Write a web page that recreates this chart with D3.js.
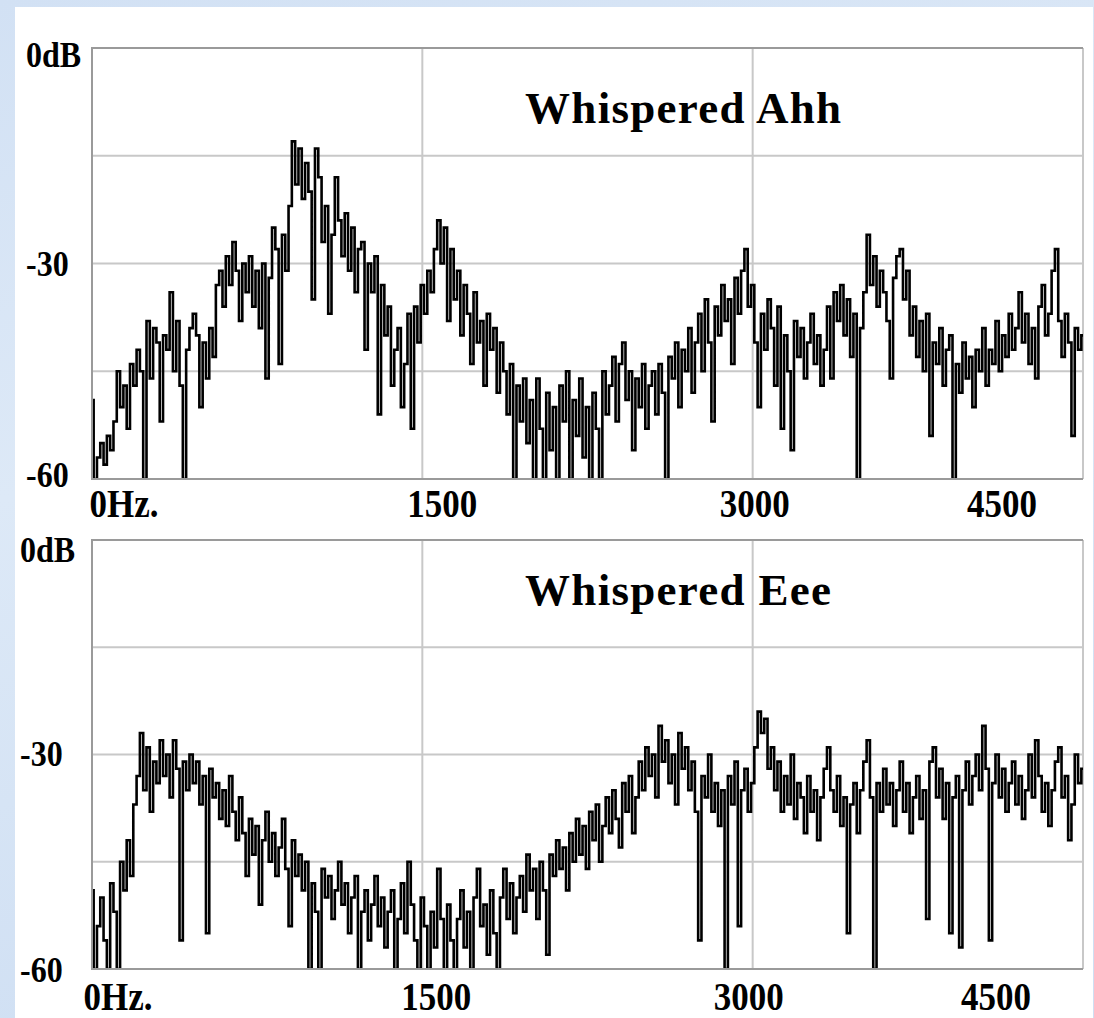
<!DOCTYPE html>
<html>
<head>
<meta charset="utf-8">
<script src="https://cdn.jsdelivr.net/npm/d3@7"></script>
<style>
  html, body { margin: 0; padding: 0; background: #d3e2f4; }
  svg { display: block; }
  text { font-family: "Liberation Serif", "Times New Roman", serif; font-weight: bold; fill: #000; }
</style>
</head>
<body>
<svg id="chart" width="1094" height="1018"></svg>
<script>
// spectrum bins are 15 Hz apart, levels in dB
const freqStep = 15;

const ahhDb = [
  -49,-60,-57,-55,-58,-54,-56,-52,-45,-50,
  -47,-53,-44,-47,-42,-45,-60,-38,-46,-39,
  -41,-52,-40,-42,-34,-45,-38,-47,-60,-42,
  -39,-37,-40,-50,-41,-46,-39,-43,-33,-31,
  -36,-29,-33,-27,-31,-38,-30,-34,-29,-36,
  -31,-39,-30,-46,-32,-25,-28,-44,-26,-31,
  -22,-13,-19,-14,-21,-16,-20,-35,-14,-18,
  -27,-22,-37,-26,-18,-24,-29,-23,-31,-25,
  -34,-28,-27,-42,-30,-34,-29,-51,-33,-40,
  -36,-47,-42,-39,-50,-44,-37,-53,-36,-41,
  -33,-37,-31,-34,-28,-24,-30,-25,-38,-28,
  -35,-31,-40,-33,-37,-44,-34,-41,-38,-47,
  -37,-42,-39,-48,-41,-45,-51,-44,-60,-47,
  -52,-46,-55,-49,-60,-46,-53,-60,-48,-56,
  -50,-60,-47,-52,-45,-60,-49,-54,-46,-57,
  -50,-60,-48,-53,-60,-45,-51,-47,-43,-52,
  -44,-41,-49,-45,-56,-46,-50,-44,-53,-47,
  -45,-51,-44,-48,-60,-43,-46,-41,-50,-42,
  -45,-39,-48,-41,-37,-45,-35,-41,-52,-36,
  -40,-33,-38,-35,-44,-32,-37,-31,-28,-36,
  -33,-41,-50,-37,-42,-35,-39,-47,-36,-53,
  -40,-45,-56,-38,-43,-39,-46,-41,-37,-44,
  -40,-47,-42,-36,-46,-34,-38,-33,-40,-35,
  -43,-37,-60,-39,-34,-26,-33,-29,-36,-31,
  -34,-38,-46,-32,-29,-28,-35,-31,-40,-36,
  -43,-38,-45,-37,-54,-41,-44,-39,-47,-42,
  -40,-60,-44,-48,-41,-46,-43,-50,-42,-45,
  -39,-47,-42,-44,-38,-45,-40,-43,-37,-42,
  -39,-34,-41,-37,-44,-39,-46,-36,-33,-40,
  -37,-31,-28,-38,-43,-37,-41,-54,-39,-42,
  -40
];

const eeeDb = [
  -49,-60,-54,-50,-56,-60,-48,-52,-60,-45,
  -49,-42,-47,-37,-33,-27,-35,-29,-38,-31,
  -34,-28,-33,-30,-36,-28,-32,-56,-31,-35,
  -30,-34,-31,-37,-33,-55,-32,-36,-34,-39,
  -35,-40,-33,-38,-42,-36,-41,-47,-39,-44,
  -40,-51,-42,-38,-45,-41,-47,-43,-39,-46,
  -54,-42,-47,-44,-49,-45,-60,-48,-52,-60,
  -46,-50,-47,-53,-49,-45,-51,-48,-55,-50,
  -47,-60,-52,-49,-56,-51,-47,-54,-50,-57,
  -52,-49,-60,-53,-48,-55,-45,-51,-56,-60,
  -50,-54,-60,-52,-57,-46,-53,-60,-51,-56,
  -60,-53,-49,-57,-52,-60,-50,-46,-54,-51,
  -58,-49,-55,-60,-50,-46,-53,-48,-55,-50,
  -47,-52,-44,-49,-46,-53,-45,-49,-58,-44,
  -47,-42,-46,-43,-49,-41,-45,-39,-44,-40,
  -46,-38,-42,-37,-45,-40,-36,-41,-35,-39,
  -43,-34,-38,-33,-41,-36,-31,-35,-29,-33,
  -30,-36,-26,-31,-28,-34,-30,-37,-27,-32,
  -29,-35,-31,-38,-56,-33,-36,-30,-38,-34,
  -40,-35,-60,-33,-37,-31,-54,-35,-32,-38,
  -34,-29,-24,-27,-25,-32,-29,-35,-31,-38,
  -33,-37,-30,-39,-34,-36,-41,-33,-38,-35,
  -42,-36,-32,-29,-35,-38,-33,-40,-36,-55,
  -37,-34,-41,-35,-31,-28,-36,-60,-34,-38,
  -32,-37,-34,-40,-35,-31,-38,-34,-41,-36,
  -33,-39,-35,-53,-31,-29,-36,-32,-39,-34,
  -55,-36,-33,-57,-35,-31,-37,-33,-30,-35,
  -26,-32,-56,-34,-30,-36,-32,-38,-34,-31,
  -37,-33,-39,-35,-30,-36,-28,-33,-38,-34,
  -40,-35,-31,-29,-36,-33,-42,-37,-30,-34,
  -32
];

const titles = ['Whispered Ahh', 'Whispered Eee'];
const xTicks = [0, 1500, 3000, 4500];
const xTickLabels = ['0Hz.', '1500', '3000', '4500'];
const yTicks = [0, -30, -60];
const yTickLabels = ['0dB', '-30', '-60'];
const yGridLines = [-15, -30, -45];
const xGridLines = [1500, 3000];

const W = 1094, H = 1018;
const svg = d3.select('#chart');
const defs = svg.append('defs');

// pale blue backdrop with a white sheet on top
const bg = defs.append('linearGradient').attr('id', 'bg')
  .attr('x1', 0).attr('y1', 0).attr('x2', 0.3).attr('y2', 1);
bg.append('stop').attr('offset', '0%').attr('stop-color', '#d2e1f4');
bg.append('stop').attr('offset', '45%').attr('stop-color', '#dde9f7');
bg.append('stop').attr('offset', '100%').attr('stop-color', '#cfdff3');
svg.append('rect').attr('width', W).attr('height', H).attr('fill', 'url(#bg)');
svg.append('rect').attr('x', 15).attr('y', 7).attr('width', 1078).attr('height', H - 7).attr('fill', '#fff');

const panels = [
  { title: titles[0], values: ahhDb, top: 48, bottom: 479, shift: 0, xLabelDy: 38,
    yLabelDy: [19, 12, 8] },
  { title: titles[1], values: eeeDb, top: 540, bottom: 969, shift: -6, xLabelDy: 41,
    yLabelDy: [22, 11, 13] },
];

// x label centres sit a little off their ticks
const xLabelDx = [32, 20, 2, -81];

panels.forEach((p, i) => {
  const x = d3.scaleLinear().domain([0, 4500]).range([92, 1083]);
  const y = d3.scaleLinear().domain([-60, 0]).range([p.bottom, p.top]);
  const g = svg.append('g');

  // grid
  g.selectAll('.hgrid').data(yGridLines).join('line')
    .attr('x1', x(0)).attr('x2', x(4500))
    .attr('y1', (d) => y(d)).attr('y2', (d) => y(d))
    .attr('stroke', '#c8c8c8').attr('stroke-width', 2);
  g.selectAll('.vgrid').data(xGridLines).join('line')
    .attr('x1', (d) => x(d)).attr('x2', (d) => x(d))
    .attr('y1', y(0)).attr('y2', y(-60))
    .attr('stroke', '#c8c8c8').attr('stroke-width', 2);
  g.append('line')
    .attr('x1', x(4500)).attr('x2', x(4500)).attr('y1', y(0)).attr('y2', y(-60))
    .attr('stroke', '#c8c8c8').attr('stroke-width', 2);

  // title
  g.append('text')
    .attr('x', 525).attr('y', p.top + (i === 0 ? 75 : 65))
    .attr('font-size', 45).attr('letter-spacing', 1.3)
    .text(p.title);

  // spectrum, drawn as steps
  defs.append('clipPath').attr('id', `clip${i}`)
    .append('rect')
    .attr('x', x(0)).attr('y', y(0))
    .attr('width', x(4500) - x(0)).attr('height', y(-60) - y(0));

  const line = d3.line()
    .x((d, j) => x(j * freqStep))
    .y((d) => y(d))
    .curve(d3.curveStep);

  g.append('path')
    .datum(p.values)
    .attr('clip-path', `url(#clip${i})`)
    .attr('d', line)
    .attr('fill', 'none')
    .attr('stroke', '#000')
    .attr('stroke-width', 2.6);

  // frame: left, top and bottom edges
  g.append('path')
    .attr('d', `M${x(4500)},${y(0)}H${x(0)}V${y(-60)}H${x(4500)}`)
    .attr('fill', 'none').attr('stroke', '#9a9a9a').attr('stroke-width', 2);

  // y labels
  g.selectAll('.ylab').data(yTicks).join('text')
    .attr('transform', (d, k) => `translate(${26 + p.shift},${y(d) + p.yLabelDy[k]}) scale(1,1.15)`)
    .attr('font-size', 32)
    .text((d, k) => yTickLabels[k]);

  // x labels
  g.selectAll('.xlab').data(xTicks).join('text')
    .attr('transform', (d, k) => `translate(${x(d) + xLabelDx[k] + p.shift},${p.bottom + p.xLabelDy}) scale(1,1.15)`)
    .attr('text-anchor', 'middle')
    .attr('font-size', 35)
    .text((d, k) => xTickLabels[k]);
});
</script>
</body>
</html>
